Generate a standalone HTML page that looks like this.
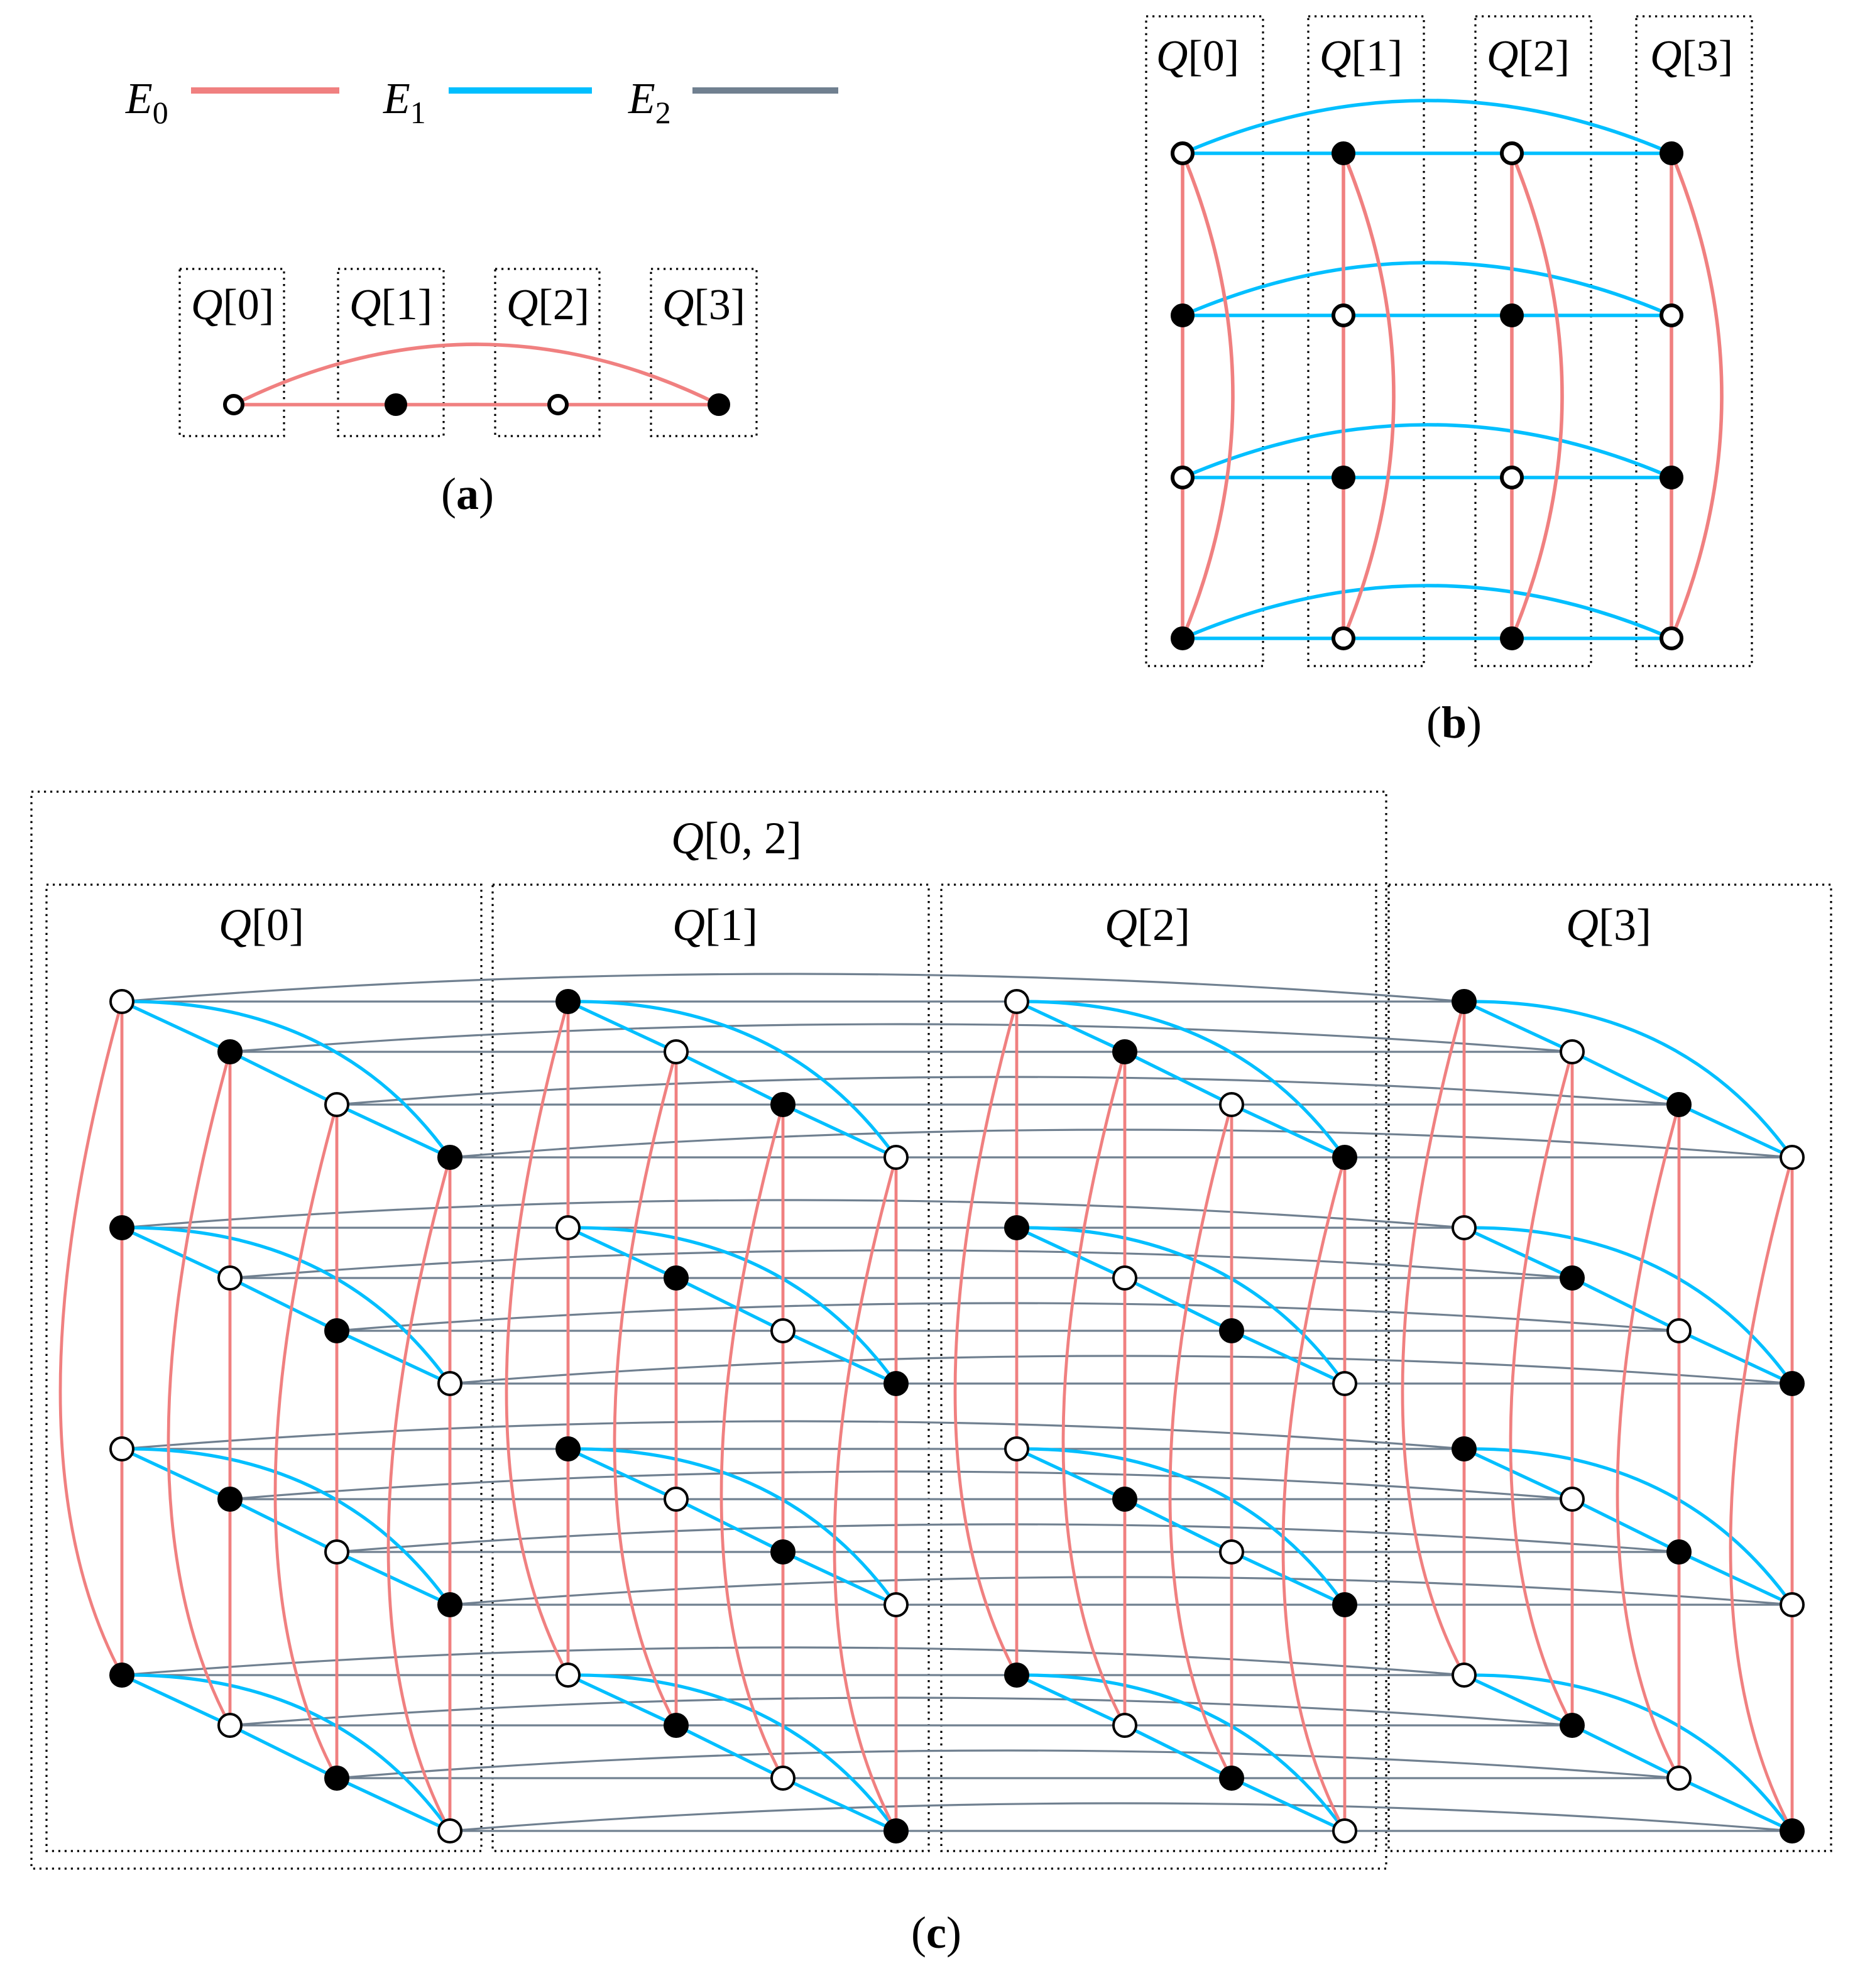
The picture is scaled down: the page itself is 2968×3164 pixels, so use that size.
<!DOCTYPE html>
<html><head><meta charset="utf-8"><style>
html,body{margin:0;padding:0;background:#fff}
svg{display:block}
text{font-family:"Liberation Serif",serif;fill:#000}
</style></head><body>
<svg id="s" width="2968" height="3164" viewBox="0 0 1484 1582" xmlns="http://www.w3.org/2000/svg">
<rect width="1484" height="1582" fill="#fff"/>
<g id="g"></g>
<g font-size="35">
<text x="100" y="90"><tspan font-style="italic">E</tspan><tspan font-size="25" dy="8">0</tspan></text>
<text x="305" y="90"><tspan font-style="italic">E</tspan><tspan font-size="25" dy="8">1</tspan></text>
<text x="500" y="90"><tspan font-style="italic">E</tspan><tspan font-size="25" dy="8">2</tspan></text>
</g>
<g font-size="35" text-anchor="middle">
<text x="185" y="254"><tspan font-style="italic">Q</tspan>[0]</text>
<text x="311" y="254"><tspan font-style="italic">Q</tspan>[1]</text>
<text x="436" y="254"><tspan font-style="italic">Q</tspan>[2]</text>
<text x="560" y="254"><tspan font-style="italic">Q</tspan>[3]</text>
<text x="953" y="56"><tspan font-style="italic">Q</tspan>[0]</text>
<text x="1083" y="56"><tspan font-style="italic">Q</tspan>[1]</text>
<text x="1216" y="56"><tspan font-style="italic">Q</tspan>[2]</text>
<text x="1346" y="56"><tspan font-style="italic">Q</tspan>[3]</text>
<text x="586" y="679" font-size="36"><tspan font-style="italic">Q</tspan>[0, 2]</text>
<text x="208" y="748" font-size="36"><tspan font-style="italic">Q</tspan>[0]</text>
<text x="569" y="748" font-size="36"><tspan font-style="italic">Q</tspan>[1]</text>
<text x="913" y="748" font-size="36"><tspan font-style="italic">Q</tspan>[2]</text>
<text x="1280" y="748" font-size="36"><tspan font-style="italic">Q</tspan>[3]</text>
<text x="372" y="405" font-size="36">(<tspan font-weight="bold">a</tspan>)</text>
<text x="1157" y="587" font-size="36">(<tspan font-weight="bold">b</tspan>)</text>
<text x="745" y="1550" font-size="36">(<tspan font-weight="bold">c</tspan>)</text>
</g>
</svg>
<script>
var g=document.getElementById('g'),NS='http://www.w3.org/2000/svg';
var RED='#F08080',BLUE='#00BFFF',GRAY='#708090';
function el(t,a){var e=document.createElementNS(NS,t);for(var k in a)e.setAttribute(k,a[k]);g.appendChild(e);return e;}
function line(x1,y1,x2,y2,c,w){el('line',{x1:x1,y1:y1,x2:x2,y2:y2,stroke:c,'stroke-width':w});}
function path(d,c,w){el('path',{d:d,stroke:c,'stroke-width':w,fill:'none'});}
function box(x1,y1,x2,y2){el('rect',{x:x1,y:y1,width:x2-x1,height:y2-y1,fill:'none',stroke:'#000','stroke-width':1.6,'stroke-dasharray':'1.6 3.4'});}
var nodes=[];
function node(x,y,b,r,sw){nodes.push([x,y,b,r||8.5,sw||2]);}
// legend
line(152,72,270,72,RED,5);line(357,72,471,72,BLUE,5);line(551,72,667,72,GRAY,5);
// (a)
box(143,214,226,347);box(269,214,353,347);box(394,214,477,347);box(518,214,602,347);
line(186,322,572,322,RED,2.8);
path('M186,322 Q379,226 572,322',RED,2.8);
node(186,322,0,7,3);node(315,322,1,7.5,3);node(444,322,0,7,3);node(572,322,1,7.5,3);
// (b)
box(912,13,1005,530);box(1041,13,1133,530);box(1174,13,1266,530);box(1302,13,1394,530);
var bx=[941,1069,1203,1330],by=[122,251,380,508];
for(var r=0;r<4;r++){line(bx[0],by[r],bx[3],by[r],BLUE,2.8);path('M'+bx[0]+','+by[r]+' Q1136,'+(by[r]-84)+' '+bx[3]+','+by[r],BLUE,2.8);}
for(var c=0;c<4;c++){line(bx[c],by[0],bx[c],by[3],RED,2.8);path('M'+bx[c]+','+by[0]+' Q'+(bx[c]+80)+',315 '+bx[c]+','+by[3],RED,2.8);}
for(var r=0;r<4;r++)for(var c=0;c<4;c++)node(bx[c],by[r],(r+c)%2,8,3);
// (c)
box(25,630,1103,1487);
box(37,704,383,1473);box(392,704,739,1473);box(749,704,1095,1473);box(1105,704,1457,1473);
var gx=[[97,183,268,358],[452,538,623,713],[809,895,980,1070],[1165,1251,1336,1426]];
var blk=[797,977,1153,1333],dy=[0,40,82,124];
function P(k,b,i){return [gx[k][i],blk[b]+dy[i]];}
for(var b=0;b<4;b++)for(var i=0;i<4;i++){
 var a=P(0,b,i),d=P(3,b,i);
 line(a[0],a[1],d[0],d[1],GRAY,1.6);
 path('M'+a[0]+','+a[1]+' Q'+((a[0]+d[0])/2)+','+(a[1]-44)+' '+d[0]+','+d[1],GRAY,1.6);
}
for(var k=0;k<4;k++)for(var b=0;b<4;b++){
 for(var i=0;i<3;i++){var p=P(k,b,i),q=P(k,b,i+1);line(p[0],p[1],q[0],q[1],BLUE,2.6);}
 var p=P(k,b,0),q=P(k,b,3);
 path('M'+p[0]+','+p[1]+' Q'+(q[0]-90)+','+(p[1]-2)+' '+q[0]+','+q[1],BLUE,2.6);
}
for(var k=0;k<4;k++)for(var i=0;i<4;i++){
 var p=P(k,0,i),q=P(k,3,i);
 line(p[0],p[1],q[0],q[1],RED,2.4);
 path('M'+p[0]+','+p[1]+' Q'+(p[0]-98)+','+(p[1]+353)+' '+q[0]+','+q[1],RED,2.4);
}
for(var k=0;k<4;k++)for(var b=0;b<4;b++)for(var i=0;i<4;i++){var p=P(k,b,i);node(p[0],p[1],(k+b+i)%2,9,2);}
nodes.forEach(function(n){el('circle',{cx:n[0],cy:n[1],r:n[3],fill:n[2]?'#000':'#fff',stroke:'#000','stroke-width':n[4]});});
</script>
</body></html>
